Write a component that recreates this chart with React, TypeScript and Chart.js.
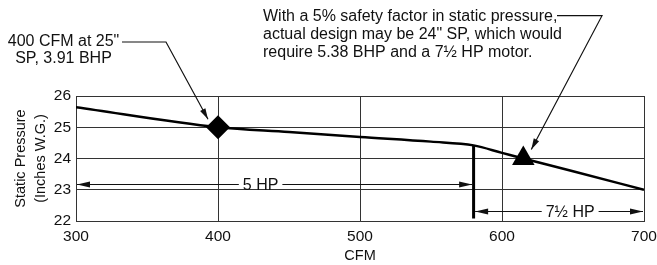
import React, { useEffect, useRef } from 'react';
import { Chart, registerables } from 'chart.js';

Chart.register(...registerables);

// ---- data ----
const CFM = [300, 400, 450, 500, 550, 580, 600, 615, 650, 700];
const STATIC_PRESSURE = [25.64, 25.0, 24.85, 24.69, 24.54, 24.42, 24.18, 24.0, 23.59, 23.0];
const DESIGN_POINT = [{ x: 400, y: 25 }];
const SAFETY_POINT = [{ x: 615, y: 24 }];
const MOTOR_BREAK = [{ x: 580, y: 24.42 }, { x: 580, y: 22.08 }];
const HP5_ARROW = { from: 300, to: 580, y: 23.18, labelAt: 430, label: '5 HP' };
const HP75_ARROW = { from: 580, to: 700, y: 22.32, labelAt: 648, label: '7\u00BD HP' };
const LEFT_NOTE = ['400 CFM at 25"', 'SP, 3.91 BHP'];
const RIGHT_NOTE = [
  'With a 5% safety factor in static pressure,',
  'actual design may be 24" SP, which would',
  'require 5.38 BHP and a 7\u00BD HP motor.',
];
const X_TITLE = 'CFM';
const Y_TITLE = ['Static Pressure', '(Inches W.G.)'];

const FONT = '"Liberation Sans", Arial, Helvetica, sans-serif';
const INK = '#111';

function arrowHead(ctx: CanvasRenderingContext2D, fx: number, fy: number, tx: number, ty: number, len = 11, half = 3) {
  const a = Math.atan2(ty - fy, tx - fx);
  ctx.beginPath();
  ctx.moveTo(tx, ty);
  ctx.lineTo(tx - len * Math.cos(a) + half * Math.sin(a), ty - len * Math.sin(a) - half * Math.cos(a));
  ctx.lineTo(tx - len * Math.cos(a) - half * Math.sin(a), ty - len * Math.sin(a) + half * Math.cos(a));
  ctx.closePath();
  ctx.fill();
}

function leader(ctx: CanvasRenderingContext2D, pts: number[][]) {
  ctx.beginPath();
  ctx.moveTo(pts[0][0], pts[0][1]);
  for (let i = 1; i < pts.length; i++) ctx.lineTo(pts[i][0], pts[i][1]);
  ctx.stroke();
  const n = pts.length;
  arrowHead(ctx, pts[n - 2][0], pts[n - 2][1], pts[n - 1][0], pts[n - 1][1]);
}

const annotationPlugin = {
  id: 'annotations',
  afterDatasetsDraw(chart: any) {
    const { ctx, scales } = chart;
    const xs = scales.x;
    const ys = scales.y;
    ctx.save();
    ctx.fillStyle = INK;
    ctx.strokeStyle = INK;
    ctx.font = `16px ${FONT}`;
    ctx.textBaseline = 'alphabetic';

    // notes
    ctx.textAlign = 'center';
    LEFT_NOTE.forEach((t, i) => ctx.fillText(t, 63.5, 46 + i * 17));
    ctx.textAlign = 'left';
    RIGHT_NOTE.forEach((t, i) => ctx.fillText(t, 263, 21 + i * 18));

    // leaders
    ctx.lineWidth = 1.2;
    const dx = xs.getPixelForValue(DESIGN_POINT[0].x);
    const dy = ys.getPixelForValue(DESIGN_POINT[0].y);
    leader(ctx, [[122, 42], [166, 42], [dx - 10, dy - 8]]);
    const sx = xs.getPixelForValue(SAFETY_POINT[0].x);
    const sy = ys.getPixelForValue(SAFETY_POINT[0].y);
    leader(ctx, [[557, 15.7], [602, 15.7], [sx + 8, sy - 9]]);

    // dimension arrows
    const dim = (a: typeof HP5_ARROW, insetL: number, insetR: number) => {
      const x1 = xs.getPixelForValue(a.from) + insetL;
      const x2 = xs.getPixelForValue(a.to) - insetR;
      const y = Math.round(ys.getPixelForValue(a.y)) + 0.5;
      const lx = xs.getPixelForValue(a.labelAt);
      const w = ctx.measureText(a.label).width;
      ctx.lineWidth = 1.2;
      ctx.beginPath();
      ctx.moveTo(x1, y);
      ctx.lineTo(lx - w / 2 - 4, y);
      ctx.moveTo(lx + w / 2 + 4, y);
      ctx.lineTo(x2, y);
      ctx.stroke();
      arrowHead(ctx, x1 + 20, y, x1, y, 13, 3);
      arrowHead(ctx, x2 - 20, y, x2, y, 13, 3);
      ctx.textAlign = 'center';
      ctx.fillText(a.label, lx, y + 5.5);
    };
    dim(HP5_ARROW, 1, 1.5);
    dim(HP75_ARROW, 1.5, 1);
    ctx.restore();
  },
};

export default function App() {
  const ref = useRef<HTMLCanvasElement>(null);
  useEffect(() => {
    if (!ref.current) return;
    Chart.defaults.font.family = FONT;
    Chart.defaults.color = INK;
    const chart = new Chart(ref.current, {
      type: 'scatter',
      data: {
        datasets: [
          {
            data: DESIGN_POINT,
            pointStyle: 'rectRot',
            pointRadius: 12,
            pointBackgroundColor: '#000',
            pointBorderColor: '#000',
            pointBorderWidth: 0,
            showLine: false,
          },
          {
            data: SAFETY_POINT,
            pointStyle: 'triangle',
            pointRadius: 13,
            pointBackgroundColor: '#000',
            pointBorderColor: '#000',
            pointBorderWidth: 0,
            showLine: false,
          },
          {
            data: CFM.map((c, i) => ({ x: c, y: STATIC_PRESSURE[i] })),
            showLine: true,
            borderColor: '#000',
            borderWidth: 2.5,
            pointRadius: 0,
            cubicInterpolationMode: 'monotone',
          },
          {
            data: MOTOR_BREAK,
            showLine: true,
            borderColor: '#000',
            borderWidth: 3,
            pointRadius: 0,
          },
        ],
      } as any,
      options: {
        responsive: false,
        animation: false,
        layout: { padding: { left: 0, top: 96, right: 10, bottom: 0 } },
        plugins: { legend: { display: false }, tooltip: { enabled: false } },
        scales: {
          x: {
            type: 'linear',
            min: 300,
            max: 700,
            ticks: { stepSize: 100, padding: 6, color: INK, font: { size: 15.5 } },
            grid: { color: '#333', lineWidth: 1, drawTicks: false },
            border: { color: '#333', width: 1 },
            title: { display: true, text: X_TITLE, color: INK, font: { size: 14.5 }, padding: { top: 0, bottom: 0 } },
            afterFit(s: any) {
              s.height = 44;
              s.paddingLeft = 0;
              s.paddingRight = 0;
            },
          },
          y: {
            type: 'linear',
            min: 22,
            max: 26,
            ticks: { stepSize: 1, padding: 5, color: INK, font: { size: 15.5 } },
            grid: { color: '#333', lineWidth: 1, drawTicks: false },
            border: { color: '#333', width: 1 },
            title: {
              display: true,
              text: Y_TITLE,
              color: INK,
              font: { size: 14.5, lineHeight: '20px' },
              padding: { top: 11, bottom: 0 },
            },
            afterFit(s: any) {
              s.width = 76;
              s.paddingTop = 0;
              s.paddingBottom = 0;
            },
          },
        },
      } as any,
      plugins: [annotationPlugin],
    });
    return () => chart.destroy();
  }, []);
  return (
    <div style={{ position: 'absolute', left: 0, top: 0, width: 657, height: 265, background: '#fff' }}>
      <canvas ref={ref} width={657} height={265} style={{ display: 'block' }} />
    </div>
  );
}
